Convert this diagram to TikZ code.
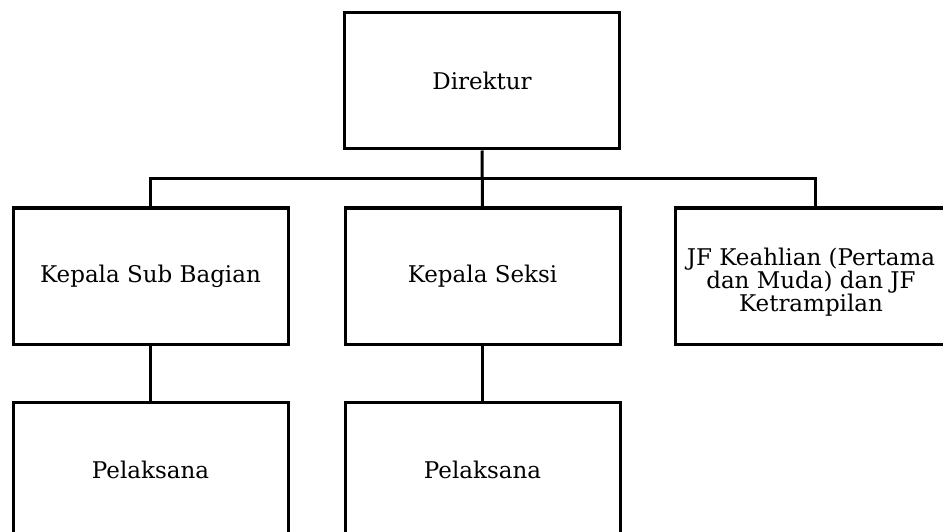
\documentclass[tikz,border=0pt]{standalone}
\usepackage{fontspec}
\setmainfont{DejaVu Serif}
\begin{document}
\begin{tikzpicture}[x=1pt,y=-1pt,
  box/.style={draw=black,line width=3pt,rectangle,minimum width=275pt,minimum height=136pt,inner sep=0pt,align=center,font=\fontsize{23}{22.5}\selectfont},
  label text/.style={inner sep=0pt,align=center,font=\fontsize{23}{22}\selectfont},
  link/.style={draw=black,line width=3pt}]
\useasboundingbox (0,0) rectangle (943,532);
\clip (0,0) rectangle (943,532);
\fill[white] (0,0) rectangle (943,532);
\node[box] (dir) at (482,81) {Direktur};
\node[box] (ksb) at (150.5,276) {Kepala Sub Bagian};
\node[box] (ks) at (482.5,276) {Kepala Seksi};
\node[box] (jf) at (813,276) {};
\node[label text] (jftext) at (811,282) {JF Keahlian (Pertama\\dan Muda) dan JF\\Ketrampilan};
\node[box] (p1) at (150.5,470) {Pelaksana};
\node[box] (p2) at (482.5,470) {Pelaksana};
\coordinate (bus) at (482,179);
\coordinate (jfin) at (815,207.5);
\draw[link] (dir.south) -- (ks.north);
\draw[link] (ksb.north) |- (bus) -| (jfin);
\draw[link] (ksb.south) -- (p1.north);
\draw[link] (ks.south) -- (p2.north);
\end{tikzpicture}
\end{document}
